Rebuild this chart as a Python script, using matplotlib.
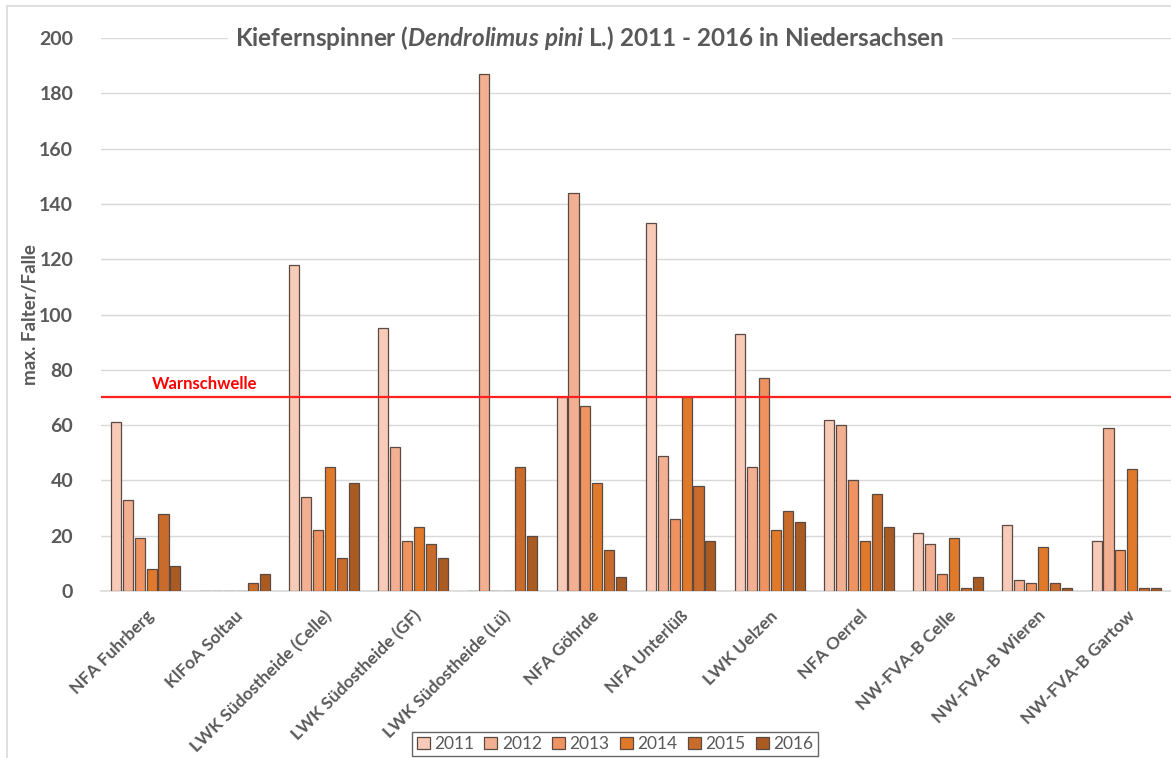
import numpy as np
import matplotlib
matplotlib.use("Agg")
import matplotlib.pyplot as plt
from matplotlib.patches import Rectangle

# Kiefernspinner trap counts (max. Falter/Falle) per site and year
sites = ["NFA Fuhrberg", "KlFoA Soltau", "LWK Südostheide (Celle)", "LWK Südostheide (GF)",
         "LWK Südostheide (Lü)", "NFA Göhrde", "NFA Unterlüß", "LWK Uelzen", "NFA Oerrel",
         "NW-FVA-B Celle", "NW-FVA-B Wieren", "NW-FVA-B Gartow"]
years = ["2011", "2012", "2013", "2014", "2015", "2016"]

y2011 = [61, 0, 118, 95, 0, 70, 133, 93, 62, 21, 24, 18]
y2012 = [33, 0, 34, 52, 187, 144, 49, 45, 60, 17, 4, 59]
y2013 = [19, 0, 22, 18, 0, 67, 26, 77, 40, 6, 3, 15]
y2014 = [8, 0, 45, 23, 0, 39, 70, 22, 18, 19, 16, 44]
y2015 = [28, 3, 12, 17, 45, 15, 38, 29, 35, 1, 3, 1]
y2016 = [9, 6, 39, 12, 20, 5, 18, 25, 23, 5, 1, 1]
series = [y2011, y2012, y2013, y2014, y2015, y2016]

warn_level = 70

colors = ["#F8CBB9", "#F3AF92", "#EE9361", "#E07A2A", "#C96B2B", "#A95B22"]
grey = "#595959"

plt.rcParams["font.family"] = ["Lato", "DejaVu Sans"]
plt.rcParams["mathtext.fontset"] = "custom"
plt.rcParams["mathtext.it"] = "Lato:italic:bold"
plt.rcParams["mathtext.rm"] = "Lato:bold"

W, H = 1171, 758
fig = plt.figure(figsize=(W / 100, H / 100), dpi=100)
ax = fig.add_axes([101 / W, 1 - 591 / H, (W - 101) / W, (591 - 38) / H])

# outer chart frame (Excel-like)
fig.patches.append(Rectangle((7 / W, -0.1), 1.2, 1 - 6 / H + 0.1, transform=fig.transFigure,
                             fill=False, ec="#d9d9d9", lw=1.2))

x = np.arange(len(sites))
step = 0.134
width = 0.113
for i, (vals, yr) in enumerate(zip(series, years)):
    ax.bar(x + (i - 2.5) * step, vals, width, color=colors[i], edgecolor="#5b4a42",
           linewidth=0.9, label=yr, zorder=3)

ax.axhline(warn_level, color="#FF2020", lw=1.6, zorder=4)
ax.text(0.065, warn_level + 2, "Warnschwelle", color="#FF0000", fontsize=12,
        fontweight="bold", va="bottom", ha="left", zorder=5)

ax.set_xlim(-0.5, len(sites) - 0.5)
ax.set_ylim(0, 200)
ax.set_yticks(range(0, 201, 20))
ax.grid(axis="y", color="#d9d9d9", lw=1, zorder=0)
ax.set_axisbelow(True)
for s in ["top", "right", "left"]:
    ax.spines[s].set_visible(False)
ax.spines["bottom"].set_color("#d9d9d9")
ax.spines["bottom"].set_linewidth(1.2)
ax.tick_params(axis="both", length=0)
ax.tick_params(axis="y", pad=20, labelsize=14, labelcolor=grey)
for lab in ax.get_yticklabels():
    lab.set_fontweight("bold")

ax.set_xticks(x)
ax.set_xticklabels(sites, rotation=45, ha="right", va="top", rotation_mode="anchor",
                   fontsize=12.5, fontweight="bold", color=grey)
ax.tick_params(axis="x", pad=12)

ax.set_ylabel("max. Falter/Falle", fontsize=13.5, fontweight="bold", color=grey)
ax.yaxis.set_label_coords((39 - 101) / (W - 101), 0.5)

title = ax.text(0.5 - 46 / (W - 101), 1.0,
                r"Kiefernspinner ($Dendrolimus\ pini$ L.) 2011 - 2016 in Niedersachsen",
                transform=ax.transAxes, ha="center", va="center", fontsize=17.5,
                fontweight="bold", color=grey, zorder=6,
                bbox=dict(fc="white", ec="none", pad=5))

leg = ax.legend(loc="center", bbox_to_anchor=(615 / W, 1 - 744 / H),
                bbox_transform=fig.transFigure, ncol=6, fontsize=12.5, frameon=True,
                fancybox=False, edgecolor="#404040", handlelength=0.75, handleheight=0.75,
                handletextpad=0.25, columnspacing=0.6, borderpad=0.25)
leg.get_frame().set_linewidth(1.0)
for t in leg.get_texts():
    t.set_color(grey)

fig.savefig("out.png", dpi=100, facecolor="white")
